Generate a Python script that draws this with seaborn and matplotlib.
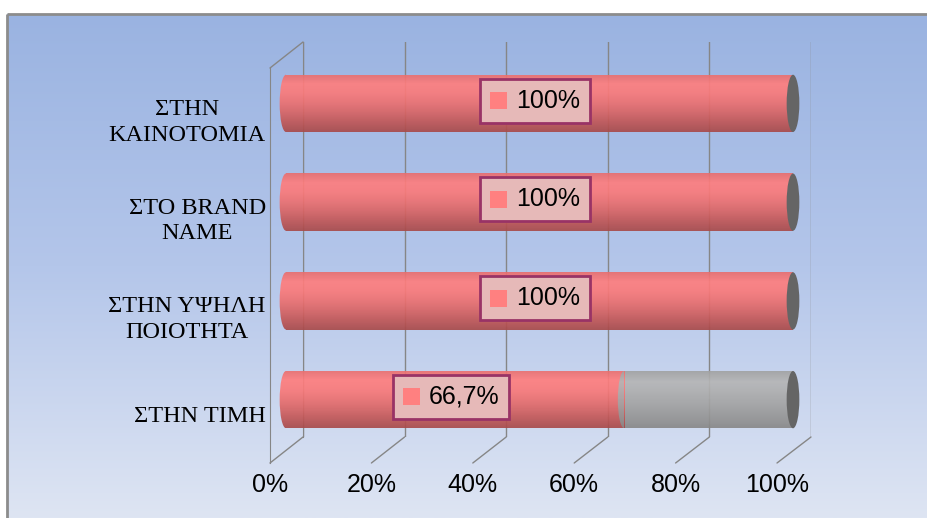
import numpy as np
import matplotlib
matplotlib.use("Agg")
import matplotlib.pyplot as plt
import seaborn as sns
from matplotlib.colors import LinearSegmentedColormap
from matplotlib.patches import Ellipse, Rectangle, ConnectionPatch
from matplotlib.offsetbox import DrawingArea, TextArea, HPacker, AnnotationBbox

# ---- data ----
categories = ["ΣΤΗΝ\nΚΑΙΝΟΤΟΜΙΑ", "ΣΤΟ BRAND\nNAME", "ΣΤΗΝ ΥΨΗΛΗ\nΠΟΙΟΤΗΤΑ", "ΣΤΗΝ ΤΙΜΗ"]
values = [100, 100, 100, 66.7]
totals = [100, 100, 100, 100]
value_labels = ["100%", "100%", "100%", "66,7%"]
x_ticks = [0, 20, 40, 60, 80, 100]
x_tick_labels = ["0%", "20%", "40%", "60%", "80%", "100%"]

W, H = 927, 518
fig = plt.figure(figsize=(W / 100, H / 100), dpi=100)
fig.patch.set_facecolor("white")


def rect(l, t, r, b):
    return [l / W, 1 - b / H, (r - l) / W, (b - t) / H]


# ---- background with gradient frame ----
bg = fig.add_axes([0, 0, 1, 1], zorder=0)
bg.set_xlim(0, W)
bg.set_ylim(H, 0)
bg.axis("off")
grad_bg = LinearSegmentedColormap.from_list("bg", ["#9AB3E1", "#B4C6EA", "#DEE5F3"])
bg.imshow(np.linspace(0, 1, 256)[:, None], cmap=grad_bg, aspect="auto",
          extent=[7, W, H, 14], origin="upper", interpolation="bilinear")
bg.plot([7, W], [14, 14], color="#8C8C8C", lw=2, solid_capstyle="butt")
bg.plot([7, 7], [14, H], color="#8C8C8C", lw=2, solid_capstyle="butt")

grid_col = "#868686"

# ---- back wall (gridlines) ----
ax_back = fig.add_axes(rect(303, 42, 811, 437), zorder=1)
ax_back.set_xlim(0, 100)
ax_back.set_ylim(0, 1)
ax_back.patch.set_visible(False)
for s in ax_back.spines.values():
    s.set_visible(False)
ax_back.set_xticks(x_ticks)
ax_back.set_yticks([])
ax_back.tick_params(length=0, labelbottom=False)
ax_back.grid(axis="x", color=grid_col, lw=1)
ax_back.spines["left"].set_visible(True)
ax_back.spines["left"].set_color(grid_col)

# ---- front plane (labels) ----
ax_front = fig.add_axes(rect(270, 68, 777, 463), zorder=2)
ax_front.set_xlim(0, 100)
ax_front.set_ylim(len(categories) - 0.5, -0.5)
ax_front.patch.set_visible(False)
for s in ax_front.spines.values():
    s.set_visible(False)
ax_front.spines["left"].set_visible(True)
ax_front.spines["left"].set_color(grid_col)
ax_front.set_xticks(x_ticks, x_tick_labels, fontsize=18, family="Liberation Sans")
ax_front.set_yticks(range(len(categories)), categories, fontsize=17.5, family="Liberation Serif")
for t in ax_front.get_yticklabels():
    t.set_multialignment("center")
    t.set_linespacing(1.3)
ax_front.tick_params(axis="x", length=0, pad=7)
ax_front.tick_params(axis="y", length=0, pad=3)

# diagonal floor / wall lines connecting back to front
for v in x_ticks:
    con = ConnectionPatch(xyA=(v, 0), coordsA=ax_back.get_xaxis_transform(),
                          xyB=(v, 0), coordsB=ax_front.get_xaxis_transform(),
                          color=grid_col, lw=1)
    fig.add_artist(con)
con = ConnectionPatch(xyA=(0, 1), coordsA=ax_back.transAxes,
                      xyB=(0, 1), coordsB=ax_front.transAxes, color=grid_col, lw=1)
fig.add_artist(con)

# ---- bars ----
x0_px, x100_px = 286, 793
px_per_unit = (x100_px - x0_px) / 100
ax = fig.add_axes(rect(x0_px - 3 * px_per_unit, 54, x100_px + 3 * px_per_unit, 449), zorder=3)
n0 = len(ax.patches)
sns.barplot(x=totals, y=categories, color="#A6A6A6", orient="h", width=0.58,
            errorbar=None, ax=ax)
gray_patches = ax.patches[n0:]
n1 = len(ax.patches)
sns.barplot(x=values, y=categories, color="#F07878", orient="h", width=0.58,
            errorbar=None, ax=ax)
red_patches = ax.patches[n1:]
ax.set_xlim(-3, 103)
ax.set_ylim(len(categories) - 0.5, -0.5)
ax.axis("off")

red_cmap = LinearSegmentedColormap.from_list(
    "red", ["#E86E6E", "#FF7E7E", "#FA7A7A", "#EC7070", "#D86464", "#C05656", "#A84A4A"])
gray_cmap = LinearSegmentedColormap.from_list(
    "gray", ["#A0A0A0", "#B6B6B6", "#ADADAD", "#A2A2A2", "#969696", "#888888"])
grad = np.linspace(0, 1, 128)[:, None]
ALPHA = 0.92


def fill_gradient(patch, cmap, x0, x1, y0, y1, z):
    im = ax.imshow(grad, cmap=cmap, aspect="auto", extent=[x0, x1, y1, y0],
                   origin="upper", interpolation="bilinear", alpha=ALPHA, zorder=z)
    im.set_clip_path(patch)
    patch.set_facecolor("none")
    patch.set_edgecolor("none")


cap_w = 2.5
for i, (gp, rp) in enumerate(zip(gray_patches, red_patches)):
    yc = gp.get_y() + gp.get_height() / 2
    h = gp.get_height()
    v = values[i]
    # gray remainder
    gp.set_x(v)
    gp.set_width(totals[i] - v)
    if totals[i] - v > 0:
        fill_gradient(gp, gray_cmap, v, totals[i], gp.get_y(), gp.get_y() + h, 2)
    else:
        gp.set_visible(False)
    # red part
    fill_gradient(rp, red_cmap, 0, v, rp.get_y(), rp.get_y() + h, 2)
    # rounded left end of red cylinder (only the part outside the body)
    e = Ellipse((0, yc), cap_w, h, fc="none", ec="none")
    ax.add_patch(e)
    fill_gradient(e, red_cmap, -cap_w, 0, yc - h / 2, yc + h / 2, 2)
    # rounded left end of gray segment, bulging over the red part
    if totals[i] - v > 0:
        e2 = Ellipse((v, yc), cap_w, h, fc="none", ec="none")
        ax.add_patch(e2)
        fill_gradient(e2, gray_cmap, v - cap_w, v, yc - h / 2, yc + h / 2, 3)
    # dark end face
    ax.add_patch(Ellipse((totals[i], yc), cap_w, h, fc="#656565", ec="none", zorder=4))

# ---- value labels ----
for i, v in enumerate(values):
    da = DrawingArea(12.2, 12.2, 0, 0)
    da.add_artist(Rectangle((0, 0), 12.2, 12.2, fc="#FF8080", ec="none"))
    ta = TextArea(value_labels[i], textprops=dict(fontsize=18, family="Liberation Sans",
                                                   color="black"))
    pack = HPacker(children=[da, ta], sep=6.5, pad=0, align="center")
    ab = AnnotationBbox(pack, (v / 2, i), xycoords="data", xybox=(-3, 2),
                        boxcoords="offset points", frameon=True, pad=0.72,
                        bboxprops=dict(fc="#E6B9B8", ec="#993366", lw=2), zorder=6)
    ax.add_artist(ab)

fig.savefig("out.png", dpi=100)
